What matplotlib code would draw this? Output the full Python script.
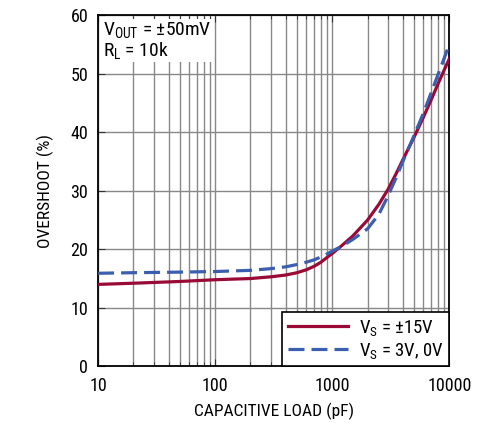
import matplotlib
matplotlib.use("Agg")
import matplotlib.pyplot as plt
from matplotlib.ticker import LogLocator, NullFormatter

plt.rcParams['font.family'] = ['Roboto Condensed', 'DejaVu Sans']
plt.rcParams['mathtext.fontset'] = 'custom'
plt.rcParams['mathtext.rm'] = 'Roboto Condensed'
plt.rcParams['mathtext.it'] = 'Roboto Condensed'

# capacitive load (pF) vs overshoot (%)
cap_15 = [10, 20, 50, 100, 200, 300, 400, 500, 600, 700, 800, 900, 1000, 1200, 1500, 2000,
          2500, 3000, 3500, 4000, 5000, 6000, 7000, 8000, 9000, 10000]
os_15 = [14.0, 14.2, 14.5, 14.8, 15.0, 15.3, 15.6, 16.0, 16.5, 17.1, 17.8, 18.6, 19.3, 20.6, 22.3, 25.0,
         27.7, 30.3, 32.9, 35.3, 39.2, 42.6, 45.6, 48.3, 50.6, 52.6]

cap_3 = [10, 20, 50, 100, 200, 300, 400, 500, 600, 700, 800, 900, 1000, 1200, 1500, 2000,
         2500, 3000, 3500, 4000, 5000, 6000, 7000, 8000, 9000, 10000]
os_3 = [15.9, 16.0, 16.1, 16.2, 16.4, 16.7, 17.0, 17.4, 17.8, 18.2, 18.7, 19.2, 19.7, 20.5, 21.7, 23.5,
        26.0, 29.2, 32.2, 35.0, 39.5, 43.3, 46.8, 49.9, 52.6, 55.1]

fig = plt.figure(figsize=(4.88, 4.23), dpi=100)
ax = fig.add_axes([0.201, 0.134, 0.720, 0.830])

ax.plot(cap_15, os_15, color='#9a0a36', lw=2.3, label=r'V$_\mathrm{S}$ = ±15V', zorder=3)
ax.plot(cap_3, os_3, color='#3c5eae', lw=2.3, ls=(0, (5, 2.2)), label=r'V$_\mathrm{S}$ = 3V, 0V', zorder=3)

ax.set_xscale('log')
ax.set_xlim(10, 10000)
ax.set_ylim(0, 60)
ax.set_yticks([0, 10, 20, 30, 40, 50, 60])
ax.set_xticks([10, 100, 1000, 10000])
ax.set_xticklabels(['10', '100', '1000', '10000'])
ax.xaxis.set_minor_locator(LogLocator(base=10, subs=range(2, 10)))
ax.xaxis.set_minor_formatter(NullFormatter())

ax.grid(True, which='both', axis='x', color='#888888', lw=1.0)
ax.grid(True, which='major', axis='y', color='#888888', lw=1.0)

ax.tick_params(which='both', direction='in', top=True, right=False, labelsize=13, color='#333333')
ax.tick_params(axis='x', which='both', pad=8)
ax.tick_params(axis='y', pad=7)
ax.tick_params(which='major', length=5)
ax.tick_params(which='minor', length=3)
for s in ax.spines.values():
    s.set_linewidth(1.3)
    s.set_color('black')

ax.set_xlabel('CAPACITIVE LOAD (pF)', fontsize=12.5, labelpad=5)
ax.set_ylabel('OVERSHOOT (%)', fontsize=12.5, labelpad=12)

ax.text(0.015, 0.985, 'V$_\\mathrm{OUT}$ = ±50mV\nR$_\\mathrm{L}$ = 10k', transform=ax.transAxes,
        fontsize=14, va='top', ha='left', linespacing=0.95,
        bbox=dict(facecolor='white', edgecolor='none', pad=1))

leg = ax.legend(loc='lower right', fontsize=13.5, frameon=True, fancybox=False,
                edgecolor='black', framealpha=1, borderaxespad=0, handlelength=3.2,
                labelspacing=0.15, borderpad=0.3, handletextpad=0.6)
leg.get_frame().set_linewidth(1.2)

fig.savefig('out.png', dpi=100)
